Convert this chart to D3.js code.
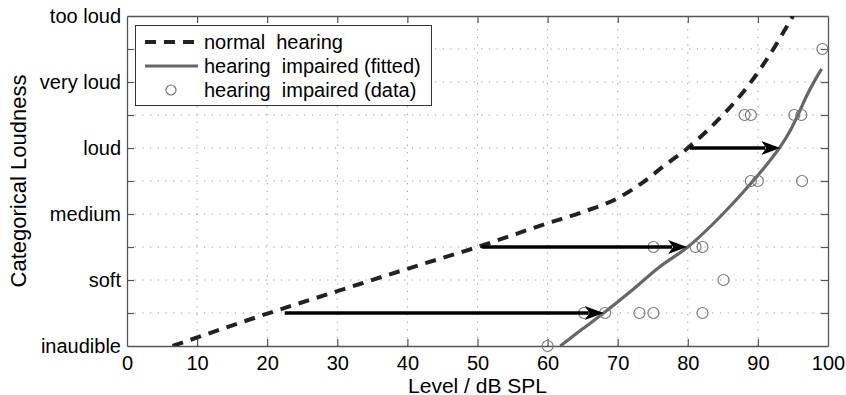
<!DOCTYPE html>
<html>
<head>
<meta charset="utf-8">
<script src="https://cdn.jsdelivr.net/npm/d3@7"></script>
<style>
  body { margin: 0; background: #fff; }
  text { font-family: "Liberation Sans", Arial, Helvetica, sans-serif; fill: #000; }
</style>
</head>
<body>
<svg id="chart" width="846" height="395"></svg>
<script>
// categorical loudness labels (CU = 0, 10, ... 50)
const loudnessLabels = ["inaudible", "soft", "medium", "loud", "very loud", "too loud"];
const xTicks = [0, 10, 20, 30, 40, 50, 60, 70, 80, 90, 100];
const yTicks = [0, 5, 10, 15, 20, 25, 30, 35, 40, 45, 50];

// normal hearing reference curve [level dB SPL, CU]
const normalHearing = [
  [6.5, 0], [20, 4.9], [30, 8.3], [40, 11.7], [50, 15], [60, 18.6], [65, 20.3],
  [70, 22.4], [73.6, 24.8], [76.5, 27.2], [80, 30], [85, 35], [88, 38.6], [91, 43], [95, 50]
];

// fitted loudness function of the impaired listener
const impairedFit = [
  [61.8, 0], [65, 2.6], [68, 5], [72, 8.4], [76, 12], [80, 15], [85, 20],
  [89.3, 25], [91.5, 27.8], [93.2, 30.2], [94.6, 32.6], [95.8, 35.2],
  [97, 38], [98.2, 40.4], [99.1, 42]
];

// raw responses of the impaired listener
const impairedData = [
  [60, 0],
  [65.2, 5], [68.2, 5], [73.1, 5], [75.1, 5], [82.1, 5],
  [85.1, 10],
  [75.1, 15], [81.1, 15], [82.1, 15],
  [89, 25], [90, 25], [96.3, 25],
  [88.1, 35], [89, 35], [95.2, 35], [96.2, 35],
  [99.2, 45]
];

// horizontal shifts from normal to impaired curve
const arrowCU = [5, 15, 30];
const arrowFrom = [22.5, 50.6, 80.3];
const arrowTo = [68, 79.9, 93.2];

const svg = d3.select("#chart");
const x = d3.scaleLinear().domain([0, 100]).range([127, 828]);
const y = d3.scaleLinear().domain([0, 50]).range([346, 16]);

const axisColor = "#555";
const gridColor = "#999";

// grid
svg.append("g").selectAll("line")
  .data(xTicks.slice(1, -1))
  .join("line")
  .attr("x1", d => x(d)).attr("x2", d => x(d))
  .attr("y1", y(0)).attr("y2", y(50))
  .attr("stroke", gridColor).attr("stroke-width", 1)
  .attr("stroke-dasharray", "1.2,6.5");

svg.append("g").selectAll("line")
  .data(yTicks.slice(1, -1))
  .join("line")
  .attr("x1", x(0)).attr("x2", x(100))
  .attr("y1", d => y(d)).attr("y2", d => y(d))
  .attr("stroke", gridColor).attr("stroke-width", 1)
  .attr("stroke-dasharray", "1.2,6.5");

// axes (ticks inside, MATLAB style)
const tickLen = 7;
const xAxis = svg.append("g").attr("transform", `translate(0,${y(0)})`)
  .call(d3.axisBottom(x).tickValues(xTicks).tickSizeInner(-tickLen).tickSizeOuter(0).tickPadding(10));
const xAxisTop = svg.append("g").attr("transform", `translate(0,${y(50)})`)
  .call(d3.axisTop(x).tickValues(xTicks).tickSizeInner(-tickLen).tickSizeOuter(0).tickFormat(""));
const yAxis = svg.append("g").attr("transform", `translate(${x(0)},0)`)
  .call(d3.axisLeft(y).tickValues(yTicks).tickSizeInner(-tickLen).tickSizeOuter(0).tickPadding(6)
    .tickFormat(d => d % 10 === 0 ? loudnessLabels[d / 10] : ""));
const yAxisRight = svg.append("g").attr("transform", `translate(${x(100)},0)`)
  .call(d3.axisRight(y).tickValues(yTicks).tickSizeInner(-tickLen).tickSizeOuter(0).tickFormat(""));

[xAxis, xAxisTop, yAxis, yAxisRight].forEach(g => {
  g.select(".domain").attr("stroke", axisColor).attr("stroke-width", 1.3);
  g.selectAll(".tick line").attr("stroke", axisColor).attr("stroke-width", 1.2);
  g.selectAll("text").attr("font-size", 20).attr("fill", "#000")
    .attr("font-family", "'Liberation Sans', Arial, Helvetica, sans-serif");
});
xAxis.selectAll(".tick line").filter(d => d === 0 || d === 100).remove();
xAxisTop.selectAll(".tick line").filter(d => d === 0 || d === 100).remove();
yAxis.selectAll(".tick line").filter(d => d === 0 || d === 50).remove();
yAxisRight.selectAll(".tick line").filter(d => d === 0 || d === 50).remove();

// axis titles
svg.append("text")
  .attr("x", (x(0) + x(100)) / 2).attr("y", 392.5)
  .attr("text-anchor", "middle").attr("font-size", 21)
  .text("Level / dB SPL");
svg.append("text")
  .attr("transform", `translate(26,${(y(0) + y(50)) / 2}) rotate(-90)`)
  .attr("text-anchor", "middle").attr("font-size", 22)
  .text("Categorical Loudness");

svg.append("clipPath").attr("id", "plotClip")
  .append("rect").attr("x", x(0)).attr("y", y(50))
  .attr("width", x(100) - x(0)).attr("height", y(0) - y(50));

const line = d3.line().x(d => x(d[0])).y(d => y(d[1])).curve(d3.curveMonotoneX);
const plot = svg.append("g").attr("clip-path", "url(#plotClip)");

// normal hearing
plot.append("path")
  .datum(normalHearing)
  .attr("d", line)
  .attr("fill", "none").attr("stroke", "#222").attr("stroke-width", 4)
  .attr("stroke-dasharray", "11,8");

// fitted impaired
plot.append("path")
  .datum(impairedFit)
  .attr("d", line)
  .attr("fill", "none").attr("stroke", "#666").attr("stroke-width", 3.2);

// data circles
svg.append("g").selectAll("circle")
  .data(impairedData)
  .join("circle")
  .attr("cx", d => x(d[0])).attr("cy", d => y(d[1]))
  .attr("r", 5.5)
  .attr("fill", "none").attr("stroke", "#777").attr("stroke-width", 1.2);

// arrows
const arrows = svg.append("g");
arrowCU.forEach((cu, i) => {
  const x0 = x(arrowFrom[i]), x1 = x(arrowTo[i]), yy = y(cu);
  const headLen = 19, headHalf = 7;
  arrows.append("line")
    .attr("x1", x0).attr("x2", x1 - headLen + 4)
    .attr("y1", yy).attr("y2", yy)
    .attr("stroke", "#000").attr("stroke-width", 3.5);
  arrows.append("path")
    .attr("d", `M${x1},${yy} L${x1 - headLen},${yy - headHalf} L${x1 - headLen + 5},${yy} L${x1 - headLen},${yy + headHalf} Z`)
    .attr("fill", "#000");
});

// legend
const legend = svg.append("g");
legend.append("rect")
  .attr("x", 135.5).attr("y", 25.5).attr("width", 296).attr("height", 80)
  .attr("fill", "#fff").attr("stroke", "#333").attr("stroke-width", 1);
const legendLabels = ["normal  hearing", "hearing  impaired (fitted)", "hearing  impaired (data)"];
const legendY = [42, 66, 90];
legend.append("line")
  .attr("x1", 145).attr("x2", 198).attr("y1", legendY[0]).attr("y2", legendY[0])
  .attr("stroke", "#222").attr("stroke-width", 4).attr("stroke-dasharray", "11,8");
legend.append("line")
  .attr("x1", 145).attr("x2", 198).attr("y1", legendY[1]).attr("y2", legendY[1])
  .attr("stroke", "#666").attr("stroke-width", 3.2);
legend.append("circle")
  .attr("cx", 171).attr("cy", legendY[2]).attr("r", 5)
  .attr("fill", "none").attr("stroke", "#777").attr("stroke-width", 1.2);
legend.selectAll("text.lbl")
  .data(legendLabels)
  .join("text")
  .attr("class", "lbl")
  .attr("x", 204).attr("y", (d, i) => legendY[i])
  .attr("dy", "0.35em")
  .attr("font-size", 20)
  .style("white-space", "pre")
  .text(d => d);
</script>
</body>
</html>
